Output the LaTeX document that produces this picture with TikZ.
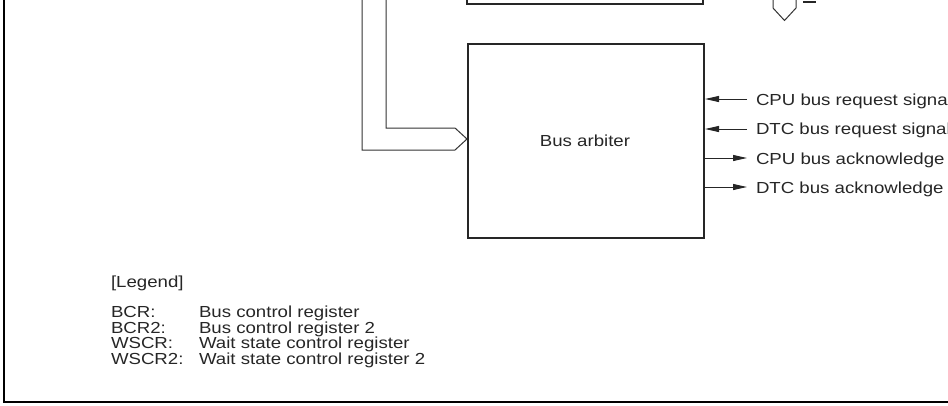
\documentclass[tikz,border=0pt]{standalone}
\usepackage{fontspec}
\setmainfont{Liberation Sans}
\newfontfamily\labfont[FakeStretch=1.165]{Liberation Sans}
\usetikzlibrary{arrows.meta}
\begin{document}
\begin{tikzpicture}[x=1pt,y=-1pt,
  txt/.style={inner sep=0pt,outer sep=0pt,font=\labfont\fontsize{16}{18}\selectfont,text=black!85},
  boxline/.style={line width=2pt,draw=black!85},
  busline/.style={line width=1pt,draw=black!80},
  sig/.style={line width=1pt,draw=black!85,-{Triangle[length=14pt,width=6pt]}},
  frameline/.style={line width=2.2pt,draw=black}]
\useasboundingbox (0,0) rectangle (948,405);
\clip (0,0) rectangle (948,405);
% outer frame (partial)
\draw[frameline] (4,-2) -- (4,402) -- (952,402);
% upper box (partial)
\draw[boxline] (467,-3) -- (467,4) -- (703,4) -- (703,-3);
% bus arbiter box
\node[boxline,draw,minimum width=236pt,minimum height=194pt,inner sep=0pt,anchor=north west] (arb) at (467,43) {};
\node[txt,anchor=base] (arbl) at (585,146) {Bus arbiter};
% bus
\coordinate (btip) at (arb.west |- 0,139);
\draw[busline] (362,-3) -- (362,150) -- (455,150) -- (btip) -- (455,128) -- (386,128) -- (386,-3);
% symbol at top right
\draw[busline] (773,-3) -- (773,8) -- (784.5,20.5) -- (796,8) -- (796,-3);
\draw[line width=1.5pt,draw=black!85] (803,2) -- (816,2);
% signal arrows
\coordinate (s1) at (747,99);
\coordinate (s2) at (747,129);
\coordinate (s3) at (747,158);
\coordinate (s4) at (747,187);
\draw[sig] (s1) -- (s1 -| arb.east);
\draw[sig] (s2) -- (s2 -| arb.east);
\draw[sig] (s3 -| arb.east) -- (s3);
\draw[sig] (s4 -| arb.east) -- (s4);
\node[txt,anchor=base west] (l1) at (756,105.2) {CPU bus request signal};
\node[txt,anchor=base west] (l2) at (756,134.9) {DTC bus request signal};
\node[txt,anchor=base west] (l3) at (756,164.2) {CPU bus acknowledge};
\node[txt,anchor=base west] (l4) at (756,193.2) {DTC bus acknowledge};
% legend
\node[txt,anchor=base west] (lg) at (111,287.5) {[Legend]};
\node[txt,anchor=base west] (k1) at (111,317.5) {BCR:};
\node[txt,anchor=base west] (k2) at (111,333) {BCR2:};
\node[txt,anchor=base west] (k3) at (111,348.8) {WSCR:};
\node[txt,anchor=base west] (k4) at (111,364.3) {WSCR2:};
\node[txt,anchor=base west] (d1) at (199,317.5) {Bus control register};
\node[txt,anchor=base west] (d2) at (199,333) {Bus control register 2};
\node[txt,anchor=base west] (d3) at (199,348.8) {Wait state control register};
\node[txt,anchor=base west] (d4) at (199,364.3) {Wait state control register 2};
\end{tikzpicture}
\end{document}
